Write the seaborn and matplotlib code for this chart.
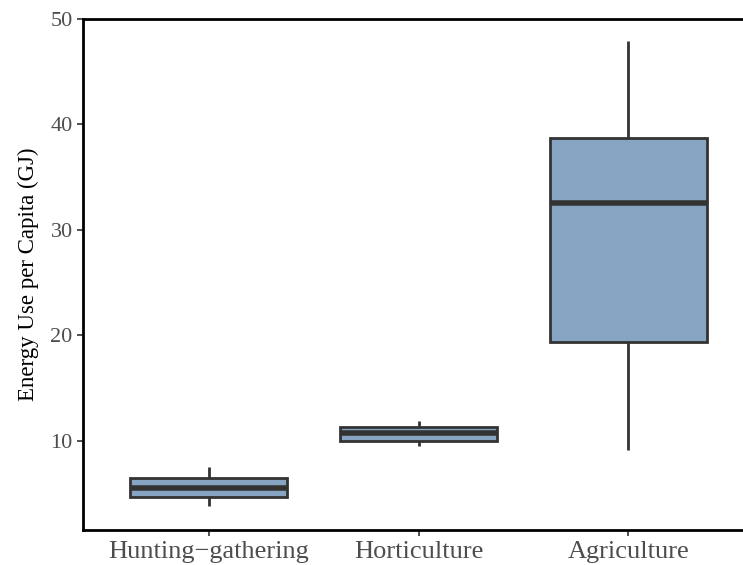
import numpy as np
import pandas as pd
import matplotlib
matplotlib.use("Agg")
import matplotlib.pyplot as plt
import seaborn as sns

# Estimated five-number summaries (min, q1, median, q3, max)
categories = ["Hunting\u2212gathering", "Horticulture", "Agriculture"]
hunting = [3.84, 4.69, 5.55, 6.49, 7.54]
horticulture = [9.53, 10.0, 10.76, 11.33, 11.9]
agriculture = [9.15, 19.4, 32.56, 38.72, 47.9]

df = pd.DataFrame({
    "system": np.repeat(categories, 5),
    "energy": hunting + horticulture + agriculture,
})

sns.set_style("white")
plt.rcParams["font.family"] = ["Liberation Serif", "DejaVu Serif"]

fig = plt.figure(figsize=(7.43, 5.65), dpi=100)
ax = fig.add_axes([83 / 743, 35 / 565, 671 / 743, 511 / 565])

line_col = "#333333"
sns.boxplot(data=df, x="system", y="energy", order=categories, ax=ax,
            width=0.75, color="#87a5c2", saturation=1, whis=1.5,
            linecolor=line_col, linewidth=2, showcaps=False,
            medianprops={"linewidth": 4, "color": line_col},
            flierprops={"marker": "o"})

ax.set_xlim(-0.6, 2.6)
ax.set_ylim(1.56, 50)
ax.set_yticks([10, 20, 30, 40, 50])
ax.set_xlabel("")
ax.set_ylabel("Energy Use per Capita (GJ)", fontsize=16.5, color="black", labelpad=8)
ax.tick_params(axis="both", which="both", length=4, width=1.2, color=line_col,
               labelcolor="#4d4d4d", labelsize=16, left=True, bottom=True)
ax.tick_params(axis="x", labelsize=19, pad=4)

for side in ["left", "bottom", "top"]:
    ax.spines[side].set_visible(True)
    ax.spines[side].set_color("black")
    ax.spines[side].set_linewidth(2)
ax.spines["right"].set_visible(False)

fig.savefig("out.png", dpi=100)
